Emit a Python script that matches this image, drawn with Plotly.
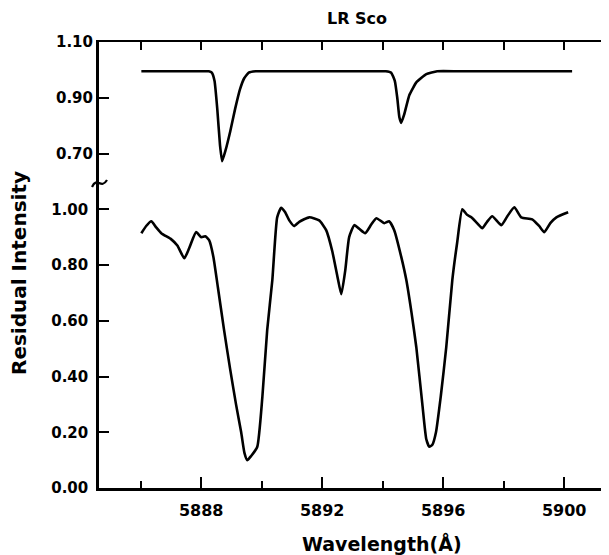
import plotly.graph_objects as go

# ---- data ----
# lower spectrum: LR Sco
wl_lower = [5886.02, 5886.18, 5886.35, 5886.51, 5886.68, 5887.01, 5887.21, 5887.44, 5887.60,
            5887.83, 5888.00, 5888.13, 5888.26, 5888.40, 5888.55, 5888.75, 5888.95, 5889.15,
            5889.32, 5889.43, 5889.52, 5889.65, 5889.85, 5890.02, 5890.18, 5890.35, 5890.51,
            5890.64, 5890.77, 5890.91, 5891.07, 5891.24, 5891.57, 5891.90, 5892.13, 5892.33,
            5892.50, 5892.63, 5892.76, 5892.89, 5893.06, 5893.22, 5893.42, 5893.62, 5893.79,
            5894.05, 5894.21, 5894.38, 5894.61, 5894.78, 5894.95, 5895.11, 5895.31, 5895.44,
            5895.54, 5895.64, 5895.76, 5895.92, 5896.10, 5896.30, 5896.46, 5896.63, 5896.79,
            5896.93, 5897.12, 5897.29, 5897.45, 5897.62, 5897.92, 5898.12, 5898.35, 5898.58,
            5898.94, 5899.17, 5899.34, 5899.54, 5899.74, 5900.13]
int_lower = [0.914, 0.940, 0.957, 0.935, 0.914, 0.892, 0.870, 0.824, 0.860,
             0.918, 0.900, 0.903, 0.889, 0.830, 0.720, 0.570, 0.430, 0.300,
             0.200, 0.125, 0.100, 0.115, 0.147, 0.326, 0.566, 0.746, 0.971,
             1.005, 0.990, 0.960, 0.940, 0.955, 0.971, 0.960, 0.925, 0.850,
             0.760, 0.695, 0.780, 0.900, 0.943, 0.930, 0.914, 0.945, 0.968,
             0.950, 0.957, 0.925, 0.830, 0.746, 0.630, 0.505, 0.300, 0.175,
             0.148, 0.155, 0.200, 0.330, 0.505, 0.746, 0.880, 1.000, 0.980,
             0.971, 0.950, 0.932, 0.955, 0.975, 0.943, 0.975, 1.007, 0.971,
             0.964, 0.940, 0.918, 0.950, 0.971, 0.989]

# upper spectrum (drawn on its own, offset intensity scale)
wl_upper = [5886.02, 5887.00, 5888.00, 5888.25, 5888.35, 5888.44, 5888.53, 5888.62, 5888.69,
            5888.80, 5888.96, 5889.12, 5889.28, 5889.42, 5889.57, 5889.80, 5890.50, 5892.00,
            5893.50, 5894.10, 5894.28, 5894.40, 5894.48, 5894.55, 5894.61, 5894.71, 5894.88,
            5895.11, 5895.44, 5895.80, 5896.50, 5898.00, 5899.50, 5900.26]
int_upper = [0.995, 0.995, 0.995, 0.995, 0.99, 0.96, 0.86, 0.73, 0.672,
             0.71, 0.78, 0.86, 0.93, 0.97, 0.99, 0.995, 0.995, 0.995,
             0.995, 0.995, 0.99, 0.96, 0.90, 0.83, 0.81, 0.84, 0.91,
             0.955, 0.985, 0.995, 0.995, 0.995, 0.995, 0.995]

lower_ticks = [0.0, 0.2, 0.4, 0.6, 0.8, 1.0]
upper_ticks = [0.70, 0.90, 1.10]
x_major = [5888, 5892, 5896, 5900]
x_all = [5886, 5888, 5890, 5892, 5894, 5896, 5898, 5900]

title_text = "LR Sco"
x_title = "Wavelength(Å)"
y_title = "Residual Intensity"

# ---- layout geometry (page has an 8px body margin) ----
OFF = 8
W, H = 601, 547
L, R, T, B = 91, 0, 34, 67
XR = [5884.62, 5901.48]
YR = [0.0, 1.60]
UPPER_OFFSET = 0.5
YR2 = [YR[0] - UPPER_OFFSET, YR[1] - UPPER_OFFSET]

FONT = "DejaVu Sans"


def px(sx):
    return (sx - OFF - L) / (W - L - R)


def py(sy):
    return (H - B - (sy - OFF)) / (H - T - B)


fig = go.Figure()
fig.add_trace(go.Scatter(x=wl_lower, y=int_lower, mode="lines",
                         line=dict(color="black", width=2.6, shape="spline", smoothing=0.5),
                         xaxis="x", yaxis="y", showlegend=False, hoverinfo="skip"))
fig.add_trace(go.Scatter(x=wl_upper, y=int_upper, mode="lines",
                         line=dict(color="black", width=2.6, shape="spline", smoothing=0.4),
                         xaxis="x2", yaxis="y2", showlegend=False, hoverinfo="skip"))
# empty trace to carry the right-hand tick axis
fig.add_trace(go.Scatter(x=[], y=[], xaxis="x", yaxis="y3", showlegend=False))

tickfont = dict(family=FONT, size=15, color="black", weight="bold")

fig.update_layout(
    width=W, height=H,
    margin=dict(l=L, r=R, t=T, b=B),
    paper_bgcolor="white", plot_bgcolor="white",
    xaxis=dict(range=XR, showgrid=False, zeroline=False,
               showline=True, linecolor="black", linewidth=3,
               ticks="inside", ticklen=11, tickwidth=2, tickcolor="black",
               tickvals=x_major, ticktext=[str(v) for v in x_major],
               ticklabelstandoff=6,
               tickfont=dict(family=FONT, size=16, color="black", weight="bold"),
               minor=dict(tickvals=[v for v in x_all if v not in x_major],
                          ticks="inside", ticklen=7, tickwidth=2, tickcolor="black")),
    xaxis2=dict(overlaying="x", matches="x", side="top", range=XR, showgrid=False,
                zeroline=False, showline=True, linecolor="black", linewidth=2,
                ticks="inside", ticklen=8, tickwidth=2, tickcolor="black",
                tickvals=x_all, showticklabels=False),
    yaxis=dict(range=YR, showgrid=False, zeroline=False,
               showline=True, linecolor="black", linewidth=2.5,
               ticks="inside", ticklen=10, tickwidth=2, tickcolor="black",
               tickvals=lower_ticks, ticktext=[f"{v:.2f}" for v in lower_ticks],
               ticklabelstandoff=5, tickfont=tickfont),
    yaxis2=dict(overlaying="y", side="left", range=YR2, showgrid=False, zeroline=False,
                showline=False, ticks="inside", ticklen=10, tickwidth=2, tickcolor="black",
                tickvals=upper_ticks, ticktext=[f"{v:.2f}" for v in upper_ticks],
                ticklabelstandoff=5, tickfont=tickfont),
    yaxis3=dict(overlaying="y", side="right", range=YR, showgrid=False, zeroline=False,
                showline=False, ticks="inside", ticklen=7, tickwidth=2, tickcolor="black",
                tickvals=lower_ticks[1:] + [v + UPPER_OFFSET for v in upper_ticks[:2]],
                showticklabels=False),
)

# titles
fig.add_annotation(text=title_text, x=px(357), y=py(18), xref="paper", yref="paper",
                   xanchor="center", yanchor="middle", showarrow=False,
                   font=dict(family=FONT, size=16, color="black", weight="bold"))
fig.add_annotation(text=x_title, x=px(382), y=py(543), xref="paper", yref="paper",
                   xanchor="center", yanchor="middle", showarrow=False,
                   font=dict(family=FONT, size=19, color="black", weight="bold"))
fig.add_annotation(text=y_title, x=px(19), y=py(273), xref="paper", yref="paper",
                   xanchor="center", yanchor="middle", textangle=-90, showarrow=False,
                   font=dict(family=FONT, size=20, color="black", weight="bold"))


# axis-break marks
def path(points):
    s = "M {:.4f},{:.4f}".format(px(points[0][0]), py(points[0][1]))
    s += " C " + " ".join("{:.4f},{:.4f}".format(px(a), py(b)) for a, b in points[1:])
    return s


fig.add_shape(type="path", xref="paper", yref="paper",
              path=path([(92, 187), (97, 176), (101, 190), (107, 180)]),
              line=dict(color="black", width=2.2))
fig.add_shape(type="path", xref="paper", yref="paper",
              path="M {:.4f},{:.4f} L {:.4f},{:.4f} L {:.4f},{:.4f} Z".format(
                  px(602), py(181), px(609), py(184), px(604), py(188)),
              fillcolor="black", line=dict(color="black", width=1))

fig.write_html("out.html")
